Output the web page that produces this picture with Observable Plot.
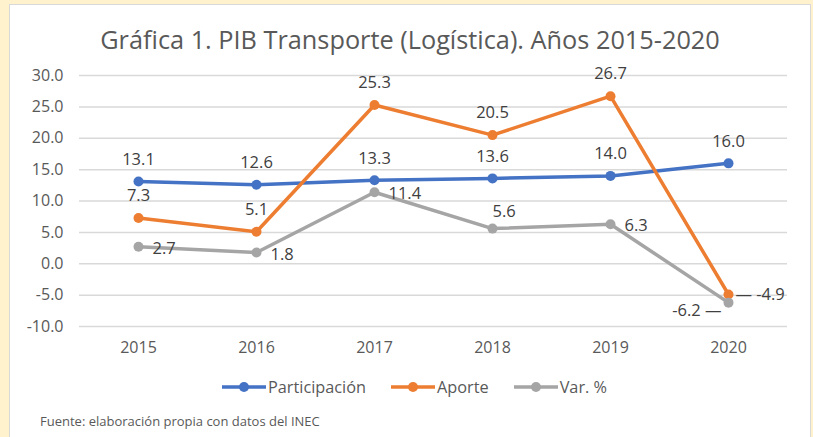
<!DOCTYPE html>
<html>
<head>
<meta charset="utf-8">
<script src="https://cdn.jsdelivr.net/npm/d3@7"></script>
<script src="https://cdn.jsdelivr.net/npm/@observablehq/plot@0.6"></script>
<style>
  html, body { margin: 0; padding: 0; }
  body { width: 813px; height: 437px; background: #fff2cc; position: relative; overflow: hidden; font-family: "Open Sans", sans-serif; }
  #panel { position: absolute; left: 9px; top: 4px; width: 802px; height: 440px; background: #fff; border: 1px solid #d9d9d9; box-sizing: border-box; }
  #title { position: absolute; left: 0; top: 22px; width: 820px; text-align: center; font-size: 25.3px; color: #595959; }
  #chart { position: absolute; left: 0; top: 60px; }
  #legend { position: absolute; left: 0; top: 376px; width: 828px; display: flex; justify-content: center; gap: 24px; font-size: 16.3px; color: #595959; }
  .item { display: flex; align-items: center; }
  .item svg { margin-right: 1px; }
  #caption { position: absolute; left: 40px; top: 412px; font-size: 13px; color: #595959; }
</style>
</head>
<body>
<div id="panel"></div>
<div id="title">Gráfica 1. PIB Transporte (Logística). Años 2015-2020</div>
<div id="chart"></div>
<div id="legend"></div>
<div id="caption">Fuente: elaboración propia con datos del INEC</div>
<script>
const years = ["2015", "2016", "2017", "2018", "2019", "2020"];
const seriesNames = ["Participación", "Aporte", "Var. %"];
const participacion = [13.1, 12.6, 13.3, 13.6, 14.0, 16.0];
const aporte = [7.3, 5.1, 25.3, 20.5, 26.7, -4.9];
const varPct = [2.7, 1.8, 11.4, 5.6, 6.3, -6.2];
const yTicks = [-10, -5, 0, 5, 10, 15, 20, 25, 30];
// label placement per point
const participacionPos = ["top", "top", "top", "top", "top", "top"];
const aportePos = ["top", "top", "top", "top", "top", "rightLeader"];
const varPos = ["right", "right", "right", "topRight", "right", "leftLeader"];

const colors = ["#4472c4", "#ed7d31", "#a5a5a5"];
const allValues = [participacion, aporte, varPct];
const allPos = [participacionPos, aportePos, varPos];

const data = [];
seriesNames.forEach((s, si) => {
  years.forEach((y, i) => data.push({series: s, year: y, value: allValues[si][i], pos: allPos[si][i]}));
});

const offsets = {
  top: {dx: 0, dy: -22, anchor: "middle"},
  right: {dx: 14, dy: 2, anchor: "start"},
  topRight: {dx: 0, dy: -17, anchor: "start"},
  rightLeader: {dx: 7, dy: 0, anchor: "start"},
  leftLeader: {dx: -7, dy: 8, anchor: "end"}
};
const labelText = d => {
  const t = d.value.toFixed(1);
  if (d.pos === "rightLeader") return "— " + t;
  if (d.pos === "leftLeader") return t + " —";
  return t;
};

const textMarks = Object.entries(offsets).map(([k, o]) =>
  Plot.text(data.filter(d => d.pos === k), {
    x: "year", y: "value", text: labelText,
    dx: o.dx, dy: o.dy, textAnchor: o.anchor,
    fill: "#404040", fontSize: 16.5
  })
);

const chart = Plot.plot({
  width: 813,
  height: 300,
  marginLeft: 79,
  marginRight: 26,
  marginTop: 15,
  marginBottom: 34,
  style: {fontFamily: "Open Sans, sans-serif", fontSize: "16px", color: "#595959", background: "transparent"},
  x: {type: "point", domain: years, padding: 0.5, label: null},
  y: {domain: [-10, 30], ticks: yTicks, label: null},
  color: {domain: seriesNames, range: colors},
  marks: [
    Plot.gridY(yTicks, {stroke: "#d9d9d9", strokeOpacity: 1, strokeWidth: 1.5}),
    Plot.axisY(yTicks, {tickSize: 0, tickPadding: 16, tickFormat: d => d.toFixed(1), fontSize: 16, fill: "#595959", label: null}),
    Plot.axisX({tickSize: 0, tickPadding: 15, fontSize: 16, fill: "#595959", label: null}),
    Plot.line(data, {x: "year", y: "value", stroke: "series", z: "series", strokeWidth: 3.5}),
    Plot.dot(data, {x: "year", y: "value", fill: "series", r: 5}),
    ...textMarks
  ]
});
document.getElementById("chart").appendChild(chart);

const legend = document.getElementById("legend");
seriesNames.forEach((s, i) => {
  const item = document.createElement("div");
  item.className = "item";
  item.innerHTML = `<svg width="46" height="12"><line x1="1" x2="45" y1="6" y2="6" stroke="${colors[i]}" stroke-width="3.5"/><circle cx="23" cy="6" r="5" fill="${colors[i]}"/></svg><span>${s}</span>`;
  legend.appendChild(item);
});
</script>
</body>
</html>
